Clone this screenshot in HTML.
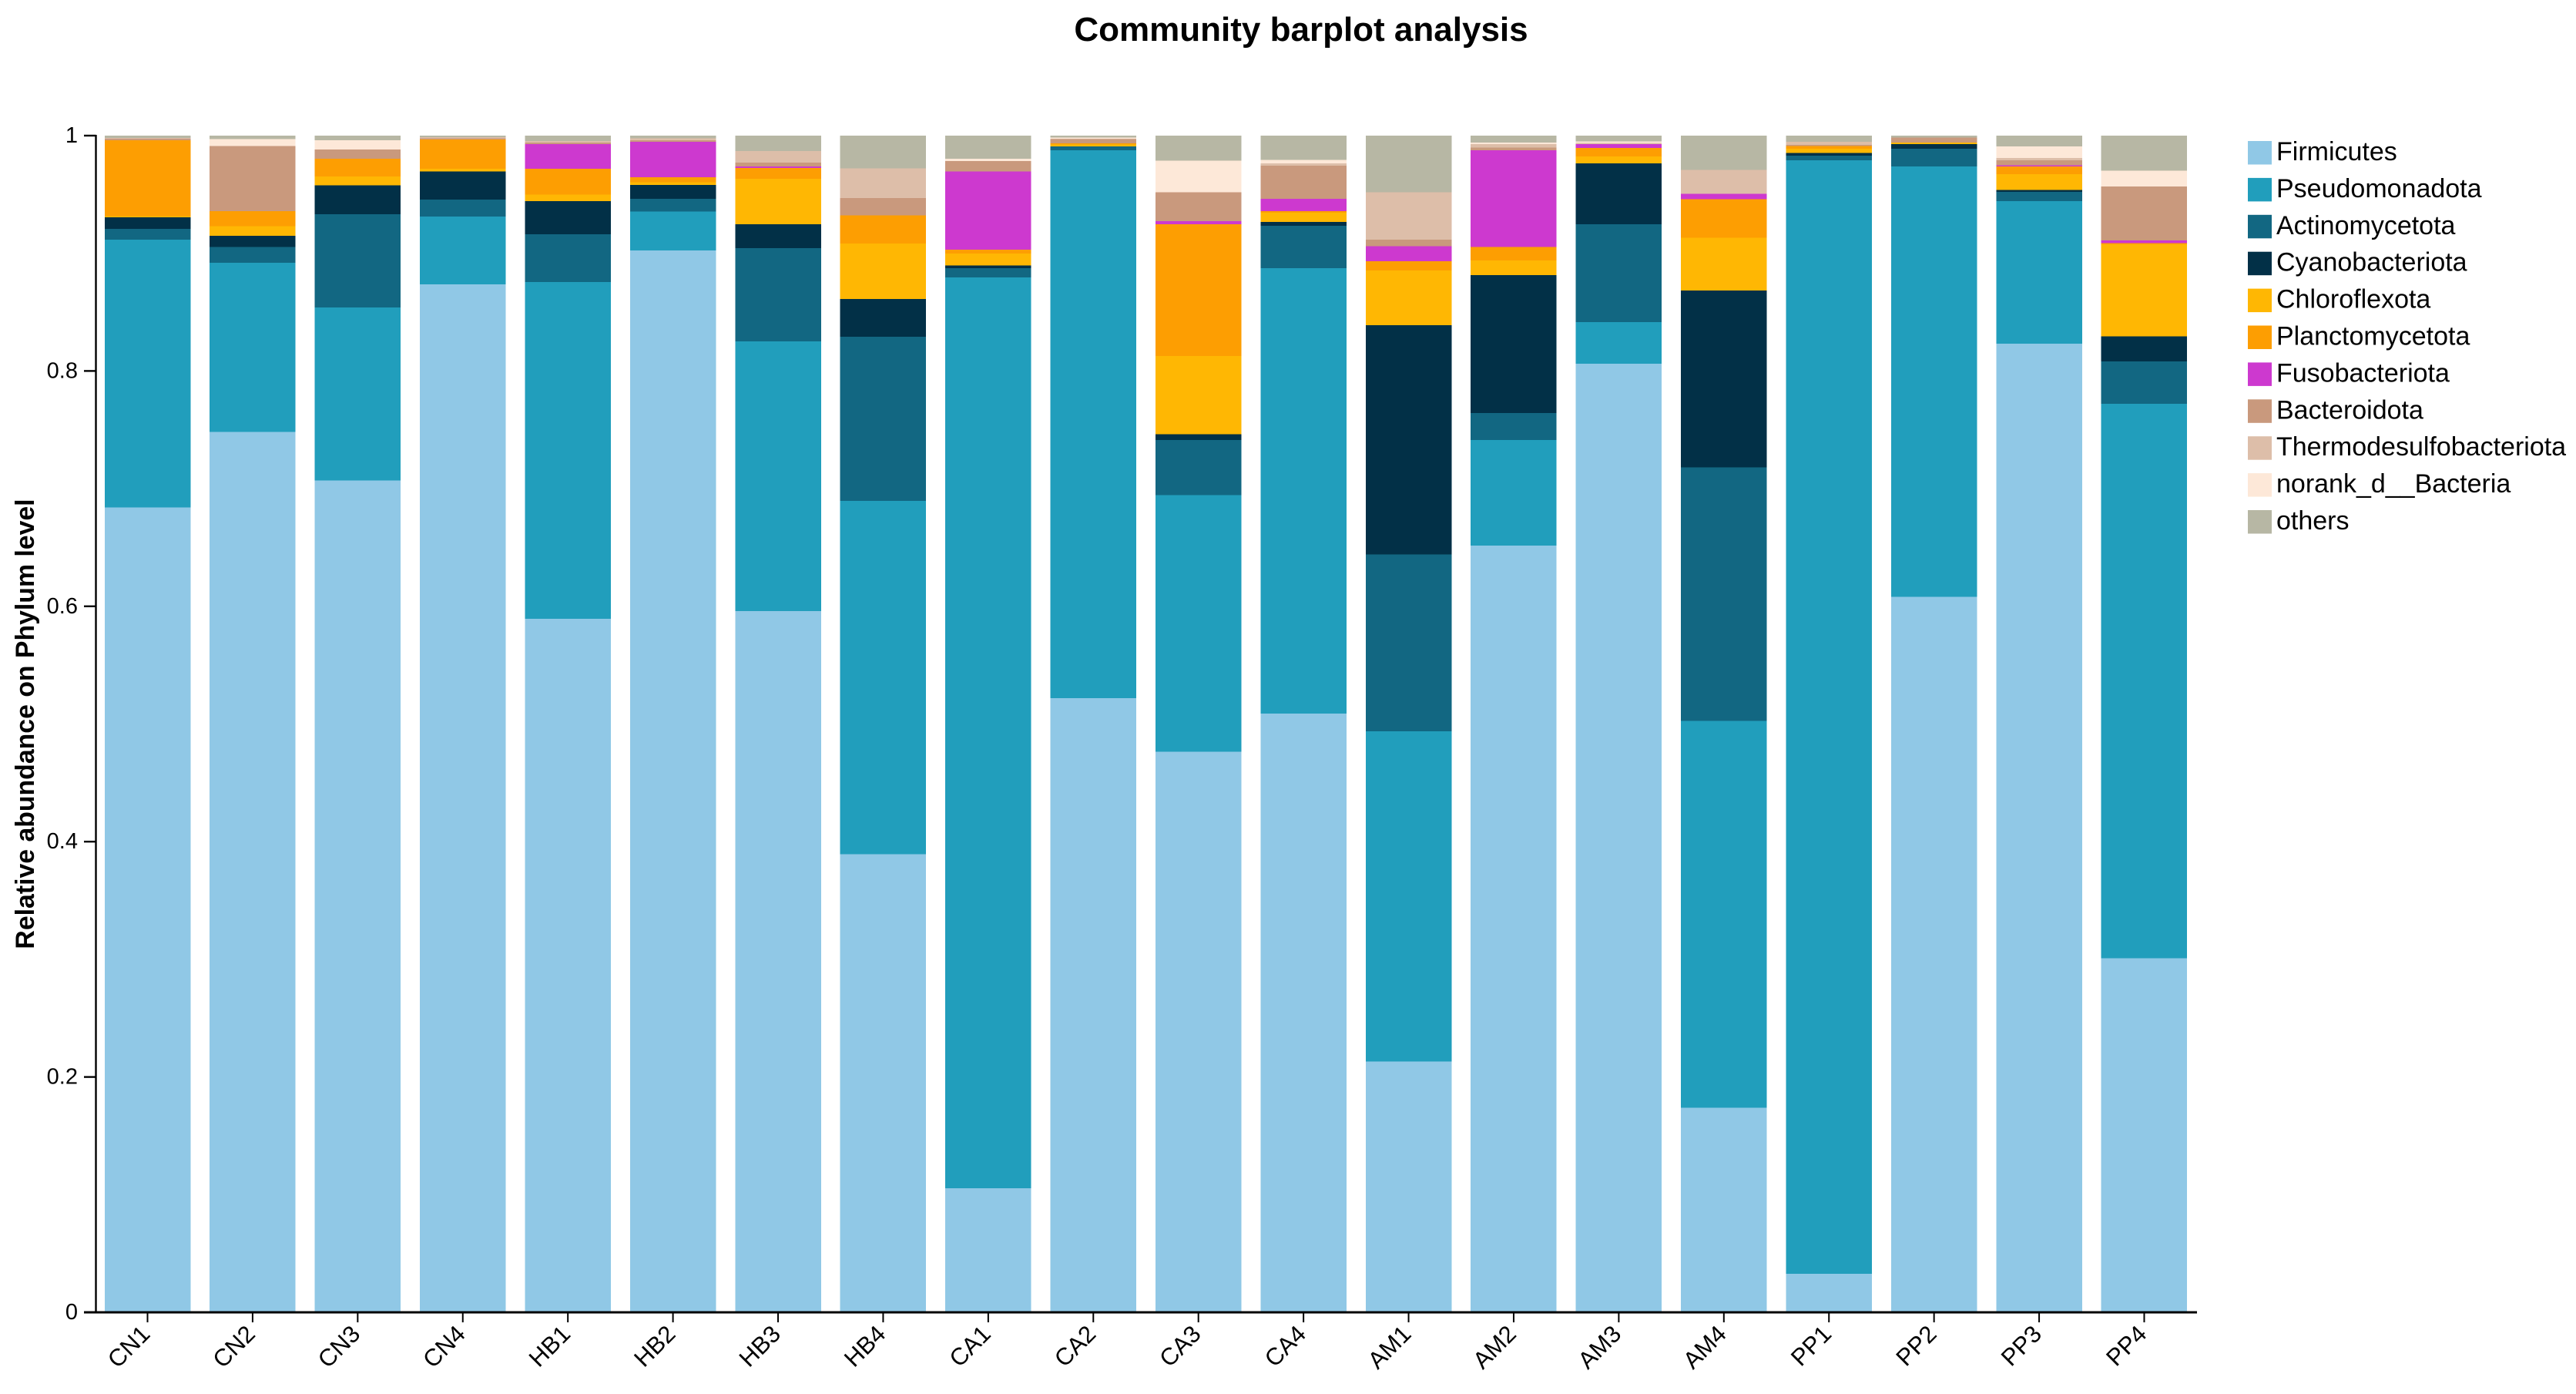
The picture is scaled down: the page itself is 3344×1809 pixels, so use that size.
<!DOCTYPE html>
<html lang="en">
<head>
<meta charset="utf-8">
<title>Community barplot analysis</title>
<style>
html,body{margin:0;padding:0;background:#fff;width:3344px;height:1809px;overflow:hidden}
svg{display:block}
text{font-family:"Liberation Sans",Arial,sans-serif;fill:#000}
</style>
</head>
<body>
<svg id="chart" xmlns="http://www.w3.org/2000/svg" width="3344" height="1809" viewBox="0 0 3344 1809">
  <text x="1689" y="53" text-anchor="middle" font-size="44" font-weight="700">Community barplot analysis</text>
  <text transform="translate(44,939.5) rotate(-90)" text-anchor="middle" font-size="33.8" font-weight="700">Relative abundance on Phylum level</text>
  <g id="bars" shape-rendering="crispEdges"></g>
  <g id="y-axis"></g>
  <g id="x-axis"></g>
  <g id="legend"></g>
</svg>
<script>
const samples = ["CN1","CN2","CN3","CN4","HB1","HB2","HB3","HB4","CA1","CA2","CA3","CA4","AM1","AM2","AM3","AM4","PP1","PP2","PP3","PP4"];
const yTickValues = [0, 0.2, 0.4, 0.6, 0.8, 1];
const yTickLabels = ["0", "0.2", "0.4", "0.6", "0.8", "1"];
const firmicutes = [.684,.7483,.707,.8735,.5894,.9023,.5961,.3894,.1054,.5219,.4765,.5088,.2131,.6516,.8061,.1738,.0327,.608,.8233,.3008];
const pseudomonadota = [.2275,.1438,.1469,.0577,.2861,.0332,.229,.3002,.774,.4656,.2179,.3785,.2807,.0897,.0355,.3287,.9463,.3657,.1211,.4714];
const actinomycetota = [.0092,.0133,.0792,.0144,.0406,.0107,.0792,.1396,.0081,.0033,.0469,.036,.1502,.0229,.083,.2156,.004,.0153,.0077,.0358];
const cyanobacteriota = [.0098,.0094,.0245,.0238,.0282,.0118,.0203,.0321,.0022,0,.0048,.0033,.195,.1172,.0517,.1503,.0022,.0037,.0016,.0213];
const chloroflexota = [.0011,.0083,.0076,.0024,.0056,.0024,.0386,.0469,.01,.0017,.0666,.0078,.0463,.0124,.0059,.0447,.0038,.0013,.0135,.0782];
const planctomycetota = [.0646,.0126,.0151,.0248,.0221,.0042,.0092,.024,.0033,.0009,.1119,.0013,.0079,.0116,.0072,.0328,.002,0,.0065,.0013];
const fusobacteriota = [0,0,0,0,.0209,.0303,.0015,0,.0666,0,.0026,.0105,.0129,.0821,.0035,.0045,0,0,.001,.0022];
const bacteroidota = [.0011,.0553,.0078,.0011,.0013,.0013,.0033,.0149,.0087,.0037,.0247,.0284,.0054,.0022,0,.0003,.0012,.0043,.0043,.0457];
const thermodesulfobacteriota = [.0007,0,0,.0009,.0011,.0015,.0096,.0251,0,.0004,0,.0017,.0404,.0032,.0009,.0202,.0026,0,.002,0];
const norankBacteria = [0,.0061,.0079,0,0,0,0,0,.0022,.001,.0268,.0031,0,.0011,.0013,0,0,0,.0097,.0135];
const others = [.002,.0029,.004,.0014,.0047,.0023,.0132,.0278,.0195,.0015,.0213,.0206,.0481,.006,.0049,.0291,.0052,.0017,.0093,.0298];

const seriesNames = ["Firmicutes","Pseudomonadota","Actinomycetota","Cyanobacteriota","Chloroflexota","Planctomycetota","Fusobacteriota","Bacteroidota","Thermodesulfobacteriota","norank_d__Bacteria","others"];
const seriesValues = [firmicutes,pseudomonadota,actinomycetota,cyanobacteriota,chloroflexota,planctomycetota,fusobacteriota,bacteroidota,thermodesulfobacteriota,norankBacteria,others];
const seriesColors = ["#90c8e6","#219ebc","#126782","#023047","#ffb703","#fd9e02","#cd39cf","#c9997d","#ddbea9","#fde8d8","#b7b7a4"];

const NS = "http://www.w3.org/2000/svg";
const axisX = 124.5, axisRight = 2852, yZero = 1703, plotH = 1527;
const step = 136.42, barW = 111.5, firstCenter = 191.5;
function yScale(v){ return yZero - plotH * v; }
function xCenter(i){ return firstCenter + step * i; }
function make(tag, attrs, parent){
  const el = document.createElementNS(NS, tag);
  for (const k in attrs) el.setAttribute(k, attrs[k]);
  parent.appendChild(el);
  return el;
}
const barsG = document.getElementById("bars");
const yG = document.getElementById("y-axis");
const xG = document.getElementById("x-axis");
const legendG = document.getElementById("legend");

samples.forEach(function(sample, i){
  let cum = 0;
  seriesValues.forEach(function(values, s){
    const v = values[i];
    if (v > 0) {
      const top = yScale(cum + v), bottom = yScale(cum);
      const r = make("rect", {x: xCenter(i) - barW / 2, y: top, width: barW, height: bottom - top, fill: seriesColors[s]}, barsG);
      
      
    }
    cum += v;
  });
});

const yLine = make("line", {x1: axisX, x2: axisX, y1: yScale(1) - 1, y2: yZero + 1.5, stroke: "#000", "stroke-width": 2.4}, yG);


yTickValues.forEach(function(v, i){
  const t = make("line", {x1: 109, x2: axisX, y1: yScale(v), y2: yScale(v), stroke: "#000", "stroke-width": 2.4}, yG);
  
  
  const l = make("text", {x: 101, y: yScale(v) + 9, "text-anchor": "end", "font-size": 29}, yG);
  
  
  l.textContent = yTickLabels[i];
});

const xLine = make("line", {x1: 109, x2: axisRight, y1: yZero, y2: yZero, stroke: "#000", "stroke-width": 3}, xG);


samples.forEach(function(sample, i){
  const c = xCenter(i);
  const t = make("line", {x1: c, x2: c, y1: yZero, y2: 1716, stroke: "#000", "stroke-width": 2}, xG);
  
  
  const l = make("text", {transform: "translate(" + (c + 5) + ",1733) rotate(-45)", "text-anchor": "end", "font-size": 31}, xG);
  
  
  l.textContent = sample;
});

seriesNames.forEach(function(name, s){
  const g = make("g", {}, legendG);
  
  
  const top = 183 + 47.9 * s;
  const sw = make("rect", {x: 2918, y: top, width: 31, height: 30.5, fill: seriesColors[s]}, g);
  
  
  const tx = make("text", {x: 2955, y: top + 25, "font-size": 34}, g);
  
  
  tx.textContent = name;
});
</script>
</body>
</html>
